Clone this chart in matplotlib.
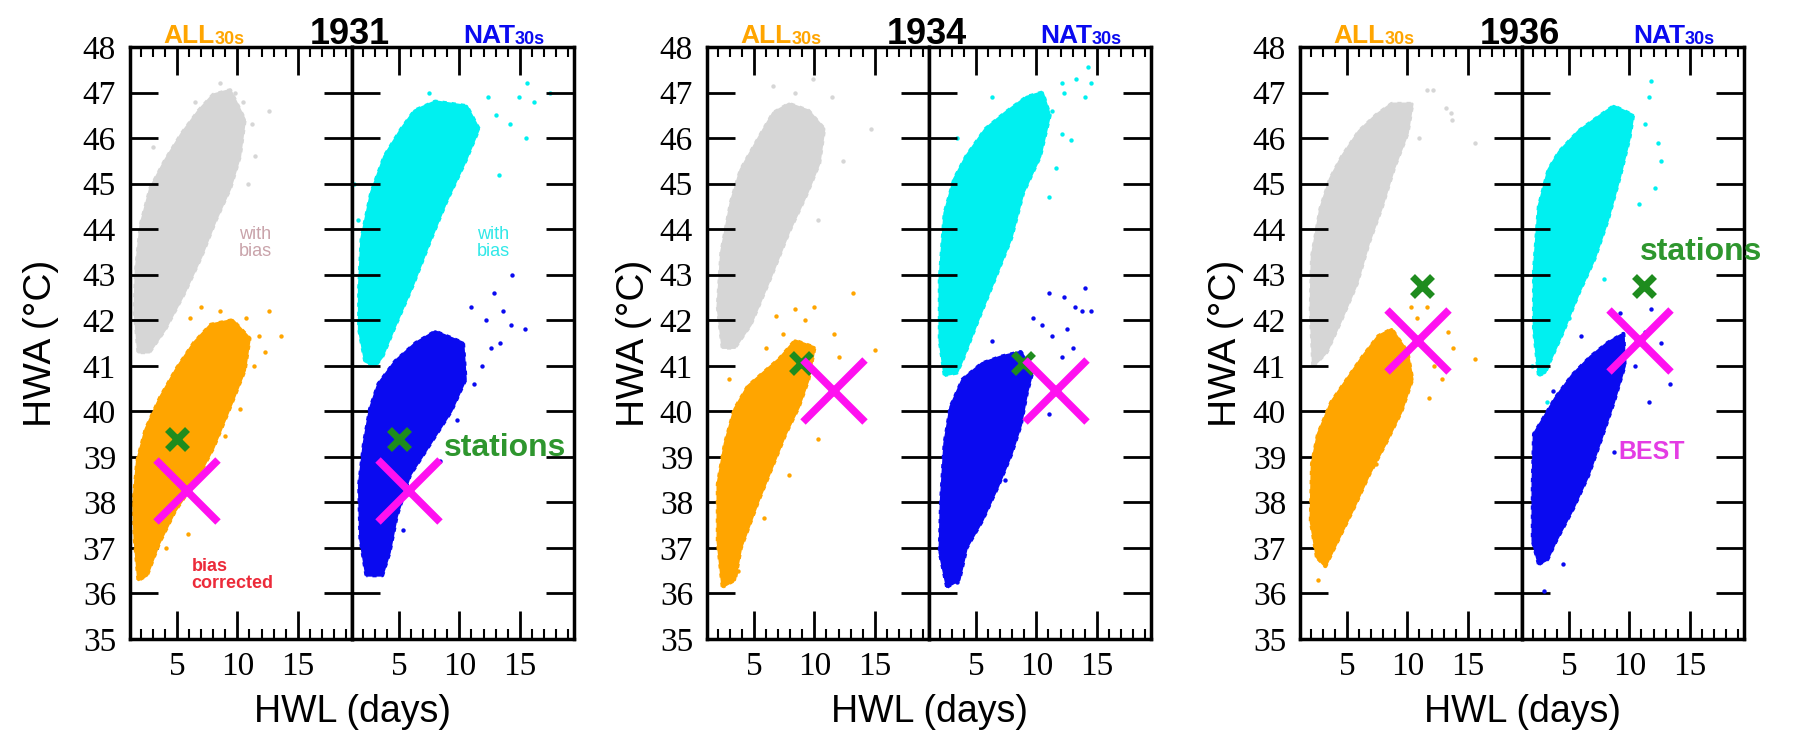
import matplotlib
matplotlib.use("Agg")
import matplotlib.pyplot as plt
from matplotlib.ticker import MultipleLocator

years = ["1931", "1934", "1936"]

# cloud outlines (HWL days, HWA degC)
gray_1931 = [(1.8, 41.3), (1.5, 42.2), (1.6, 43.1), (2.0, 44.1), (2.8, 44.9), (4.0, 45.5), (5.4, 46.1), (6.8, 46.6),
             (8.0, 46.95), (9.4, 47.05), (10.6, 46.4), (10.2, 45.6), (9.4, 44.9), (8.2, 44.2), (7.0, 43.4), (5.6, 42.6),
             (4.0, 41.8), (2.7, 41.3)]
orange_1931 = [(1.8, 36.3), (1.5, 37.2), (1.4, 38.0), (1.7, 38.9), (2.4, 39.6), (3.6, 40.3), (5.0, 40.95), (6.4, 41.5),
               (7.8, 41.9), (9.6, 42.0), (11.0, 41.6), (10.6, 40.9), (9.4, 40.1), (8.0, 39.2), (6.8, 38.6),
               (4.8, 37.8), (3.5, 37.1), (2.5, 36.4)]
cyan_1931 = [(2.2, 41.1), (1.7, 41.8), (1.7, 42.7), (1.9, 43.8), (2.7, 44.8), (3.8, 45.6), (5.2, 46.2), (6.3, 46.6),
             (8.0, 46.8), (10.6, 46.7), (11.6, 46.2), (10.5, 45.5), (8.9, 44.6), (7.5, 43.7), (6.1, 42.75), (4.7, 41.9),
             (3.6, 41.2), (3.0, 41.0)]
blue_1931 = [(2.3, 36.4), (1.8, 37.2), (1.7, 38.4), (2.1, 39.3), (2.6, 40.05), (3.3, 40.6), (4.7, 41.1), (6.4, 41.5),
             (8.0, 41.75), (10.3, 41.5), (10.5, 40.7), (9.3, 40.0), (7.6, 39.3), (5.9, 38.6), (4.8, 37.7), (4.2, 36.9),
             (3.6, 36.4)]

gray_1934 = [(2.4, 41.4), (2.0, 42.3), (2.3, 43.5), (3.1, 44.6), (3.9, 45.3), (5.5, 46.05), (6.6, 46.55), (7.9, 46.75),
             (9.5, 46.6), (10.8, 46.2), (10.4, 45.45), (9.4, 44.8), (7.9, 43.95), (6.3, 42.9), (4.7, 41.9), (3.4, 41.4)]
orange_1934 = [(2.4, 36.15), (2.0, 37.15), (2.0, 38.4), (2.6, 39.3), (3.4, 40.05), (4.5, 40.55), (5.8, 40.85),
               (7.1, 41.15), (8.4, 41.55), (10.0, 41.4), (9.5, 40.7), (8.7, 40.1), (7.6, 39.5), (6.6, 38.85),
               (5.3, 38.0), (3.9, 37.0), (3.4, 36.3)]
cyan_1934 = [(2.4, 40.8), (2.0, 41.55), (2.0, 42.9), (2.4, 44.35), (3.2, 45.1), (4.2, 45.6), (5.8, 46.2), (7.4, 46.55),
             (9.2, 46.9), (10.5, 47.0), (11.1, 46.5), (10.3, 45.6), (8.9, 44.8), (7.9, 43.8), (6.3, 42.75), (5.0, 41.9),
             (3.9, 41.15), (3.4, 40.85)]
blue_1934 = [(2.6, 36.15), (2.0, 36.9), (2.1, 38.0), (2.4, 39.3), (2.9, 40.1), (3.9, 40.7), (5.5, 41.05), (7.1, 41.2),
             (8.7, 41.3), (9.7, 40.9), (9.2, 40.4), (8.7, 39.7), (7.9, 39.05), (6.8, 38.35), (5.5, 37.6), (4.2, 37.0),
             (3.6, 36.3)]

gray_1936 = [(2.2, 41.0), (2.0, 42.25), (2.1, 43.4), (2.8, 44.45), (3.6, 45.1), (4.6, 45.6), (6.0, 46.15), (7.4, 46.5),
             (8.7, 46.75), (10.4, 46.75), (10.0, 46.1), (8.9, 45.35), (7.9, 44.5), (6.8, 43.7), (5.8, 42.8),
             (4.5, 42.0), (3.3, 41.3)]
orange_1936 = [(2.5, 36.8), (2.0, 37.6), (2.1, 38.85), (2.6, 39.5), (3.7, 40.2), (5.0, 40.7), (6.3, 41.2), (7.6, 41.65),
               (8.7, 41.8), (10.0, 41.3), (10.4, 40.7), (9.5, 40.0), (8.2, 39.3), (6.8, 38.6), (5.5, 37.85),
               (4.2, 37.15), (3.2, 36.6)]
cyan_1936 = [(2.5, 40.8), (2.1, 41.8), (2.1, 43.1), (2.5, 44.5), (3.3, 45.3), (4.2, 45.7), (5.8, 46.15), (7.1, 46.4),
             (8.7, 46.7), (10.3, 46.5), (10.0, 46.0), (9.2, 45.15), (8.2, 44.2), (7.1, 43.35), (5.8, 42.6),
             (4.5, 41.75), (3.4, 41.1), (3.0, 40.85)]
blue_1936 = [(2.5, 36.65), (2.0, 37.15), (2.0, 38.4), (2.1, 39.5), (2.9, 39.85), (3.9, 40.3), (5.3, 40.8), (6.8, 41.2),
             (8.2, 41.5), (9.5, 41.7), (9.6, 41.0), (8.7, 40.2), (7.6, 39.35), (6.6, 38.6), (5.3, 37.85), (3.9, 37.15),
             (3.2, 36.75)]

# loose members outside the dense clouds
gray_1931_pts = [(9.8, 47.0), (10.5, 46.8), (11.2, 46.3), (6.5, 46.8), (8.6, 47.2), (11.5, 45.6), (10.9, 45.0),
                 (3.0, 45.8), (12.6, 46.6)]
orange_1931_pts = [(13.6, 41.65), (12.6, 42.2), (10.7, 42.05), (11.8, 41.65), (6.1, 42.05), (11.4, 41.0), (9.0, 39.45),
                   (5.9, 37.3), (4.1, 37.0), (10.2, 40.05), (7.0, 42.3), (12.3, 41.3), (8.6, 42.2)]
cyan_1931_pts = [(17.5, 47.0), (15.6, 47.2), (14.9, 46.9), (16.2, 46.8), (14.2, 46.3), (15.5, 46.0), (13.3, 45.2),
                 (1.3, 45.0), (12.4, 46.9), (13.0, 46.5), (7.5, 47.0), (1.6, 44.2)]
blue_1931_pts = [(14.4, 43.0), (13.6, 42.2), (12.2, 42.0), (14.3, 41.9), (15.4, 41.8), (13.4, 41.5), (12.6, 41.4),
                 (11.9, 41.0), (11.2, 40.6), (9.8, 39.8), (8.4, 38.9), (11.0, 42.3), (12.9, 42.6), (5.3, 37.4)]
gray_1934_pts = [(14.7, 46.2), (12.4, 45.5), (10.3, 44.2), (6.6, 47.15), (8.4, 47.0), (11.5, 46.9), (9.9, 47.3)]
orange_1934_pts = [(13.2, 42.6), (10.0, 42.3), (8.4, 42.25), (6.8, 42.1), (11.6, 41.7), (15.0, 41.35), (7.4, 41.7),
                   (6.0, 41.4), (10.3, 39.4), (7.9, 38.6), (5.8, 37.65), (3.7, 36.5), (2.9, 40.7), (12.0, 41.2),
                   (9.2, 42.0)]
cyan_1934_pts = [(12.1, 47.2), (11.3, 46.6), (12.1, 46.1), (12.9, 45.95), (11.6, 45.35), (11.05, 44.7), (3.4, 46.0),
                 (14.3, 47.55), (13.3, 47.3), (14.5, 47.2), (12.3, 47.0), (14.0, 46.9), (6.3, 46.9)]
blue_1934_pts = [(11.05, 42.6), (13.2, 42.3), (9.7, 42.05), (10.5, 41.9), (11.3, 41.65), (12.1, 41.2), (6.3, 41.55),
                 (11.05, 39.95), (7.4, 38.5), (3.4, 36.25), (14.0, 42.7), (14.5, 42.2), (13.8, 42.2), (12.3, 42.5),
                 (12.5, 41.8), (13.0, 41.4)]
gray_1936_pts = [(13.7, 46.4), (11.6, 47.05), (13.2, 46.65), (12.1, 47.05), (13.6, 46.55), (15.6, 45.9), (11.0, 46.0)]
orange_1936_pts = [(13.4, 41.75), (13.8, 41.4), (12.9, 40.7), (11.8, 40.3), (10.3, 42.3), (11.6, 42.3), (10.8, 42.05),
                   (2.6, 36.3), (5.0, 37.9), (7.4, 38.85), (15.6, 41.15), (12.2, 41.0)]
cyan_1936_pts = [(11.8, 47.25), (11.6, 46.9), (11.3, 46.3), (12.4, 45.9), (12.6, 45.5), (12.1, 44.9), (10.8, 44.55),
                 (7.9, 42.9), (5.0, 42.05), (3.2, 40.2), (1.9, 41.0)]
blue_1936_pts = [(11.8, 42.25), (11.3, 41.75), (12.6, 41.5), (13.4, 40.6), (11.6, 40.2), (8.7, 39.1), (4.5, 36.65),
                 (2.9, 36.05), (6.0, 41.65), (3.7, 40.45), (9.2, 42.15), (10.5, 41.0)]

# observed event (stations) and BEST
stations_x = [5.0, 8.9, 11.2]
stations_y = [39.4, 41.05, 42.75]
best_x = [5.8, 11.6, 10.9]
best_y = [38.25, 40.45, 41.55]

GRAY, ORANGE, CYAN, BLUE = "#d6d6d6", "#ffa500", "#00f0f0", "#0a0af0"

SERIF = "Liberation Serif"
SANS = "Liberation Sans"
plt.rcParams["font.family"] = "serif"
plt.rcParams["font.serif"] = [SERIF, "DejaVu Serif"]

fig = plt.figure(figsize=(18.04, 7.34), dpi=100)
W, H = 1804, 734
lefts = [130, 707, 1300]
sub_w = 222
bottom, top = 639, 47


def cloud(ax, outline, pts, color, z):
    xs = [p[0] for p in outline]
    ys = [p[1] for p in outline]
    ax.fill(xs, ys, color=color, lw=2, ec=color, joinstyle="round", zorder=z)
    ax.plot(xs + xs[:1], ys + ys[:1], ls=(0, (1, 1.2)), lw=3, color=color, zorder=z)
    ax.scatter([p[0] for p in pts], [p[1] for p in pts], s=10, color=color, lw=0, zorder=z)


def style(ax, show_labels):
    ax.set_xlim(1.1, 19.5)
    ax.set_ylim(35, 48)
    ax.set_xticks([5, 10, 15])
    ax.xaxis.set_minor_locator(MultipleLocator(1))
    ax.yaxis.set_major_locator(MultipleLocator(1))
    ax.tick_params(which="both", direction="in", top=True, bottom=True, left=True, right=True, width=2)
    ax.tick_params(which="major", length=20, labelsize=24, pad=9, labelfontfamily=SERIF)
    ax.tick_params(which="minor", length=7, width=1.5)
    ax.tick_params(axis="y", labelleft=show_labels, pad=10)
    for s in ax.spines.values():
        s.set_linewidth(2.5)


groups = [
    (gray_1931, gray_1931_pts, orange_1931, orange_1931_pts, cyan_1931, cyan_1931_pts, blue_1931, blue_1931_pts),
    (gray_1934, gray_1934_pts, orange_1934, orange_1934_pts, cyan_1934, cyan_1934_pts, blue_1934, blue_1934_pts),
    (gray_1936, gray_1936_pts, orange_1936, orange_1936_pts, cyan_1936, cyan_1936_pts, blue_1936, blue_1936_pts),
]
ylabel_x = [-0.32, -0.25, -0.25]

axes = []
for i, (year, g) in enumerate(zip(years, groups)):
    ax_all = fig.add_axes([lefts[i] / W, (H - bottom) / H, sub_w / W, (bottom - top) / H])
    ax_nat = fig.add_axes([(lefts[i] + sub_w) / W, (H - bottom) / H, sub_w / W, (bottom - top) / H])
    cloud(ax_all, g[0], g[1], GRAY, 1)
    cloud(ax_all, g[2], g[3], ORANGE, 2)
    cloud(ax_nat, g[4], g[5], CYAN, 1)
    cloud(ax_nat, g[6], g[7], BLUE, 2)
    for ax in (ax_all, ax_nat):
        ax.plot(stations_x[i], stations_y[i], marker="x", ms=14, mew=5, color="#1e8c1e", zorder=5)
        ax.plot(best_x[i], best_y[i], marker="x", ms=44, mew=5.5, color="#ff10f0", zorder=6)
    style(ax_all, True)
    style(ax_nat, False)
    ax_all.set_ylabel("HWA (°C)", fontsize=28, family=SANS)
    ax_all.yaxis.set_label_coords(ylabel_x[i], 0.5)
    fig.text((lefts[i] + sub_w) / W, 0.006, "HWL (days)", fontsize=27, family=SANS, ha="center", va="bottom")

    # titles above the pair
    t_all = ax_all.text(0.15, 1.006, "ALL", transform=ax_all.transAxes, color=ORANGE, fontsize=19,
                        family=SANS, weight="bold", ha="left", va="baseline")
    ax_all.annotate("30s", xy=(1, 0), xycoords=t_all, color=ORANGE, fontsize=13, family=SANS,
                    weight="bold", ha="left", va="bottom")
    ax_all.text(0.99, 1.005, year, transform=ax_all.transAxes, fontsize=26, family=SANS, weight="bold",
                ha="center", va="baseline")
    t_nat = ax_nat.text(0.50, 1.006, "NAT", transform=ax_nat.transAxes, color=BLUE, fontsize=19,
                        family=SANS, weight="bold", ha="left", va="baseline")
    ax_nat.annotate("30s", xy=(1, 0), xycoords=t_nat, color=BLUE, fontsize=13, family=SANS,
                    weight="bold", ha="left", va="bottom")
    axes.append((ax_all, ax_nat))

# annotations
a, n = axes[0]
a.text(11.5, 43.7, "with\nbias", color="#c9a3aa", fontsize=13, family=SANS, ha="center", va="center",
       linespacing=1.0)
n.text(12.8, 43.7, "with\nbias", color="#30e8e8", fontsize=13, family=SANS, ha="center", va="center",
       linespacing=1.0)
a.text(6.2, 36.4, "bias\ncorrected", color="#ec2b3a", fontsize=13, family=SANS, weight="bold",
       ha="left", va="center", linespacing=1.0)
n.text(8.7, 39.2, "stations", color="#2e962e", fontsize=23, family=SANS, weight="bold", ha="left",
       va="center")
a, n = axes[2]
n.text(10.9, 43.5, "stations", color="#2e962e", fontsize=23, family=SANS, weight="bold", ha="left",
       va="center", clip_on=False)
n.text(9.1, 39.1, "BEST", color="#e43ce4", fontsize=18, family=SANS, weight="bold", ha="left",
       va="center")

fig.savefig("out.png", dpi=100)
